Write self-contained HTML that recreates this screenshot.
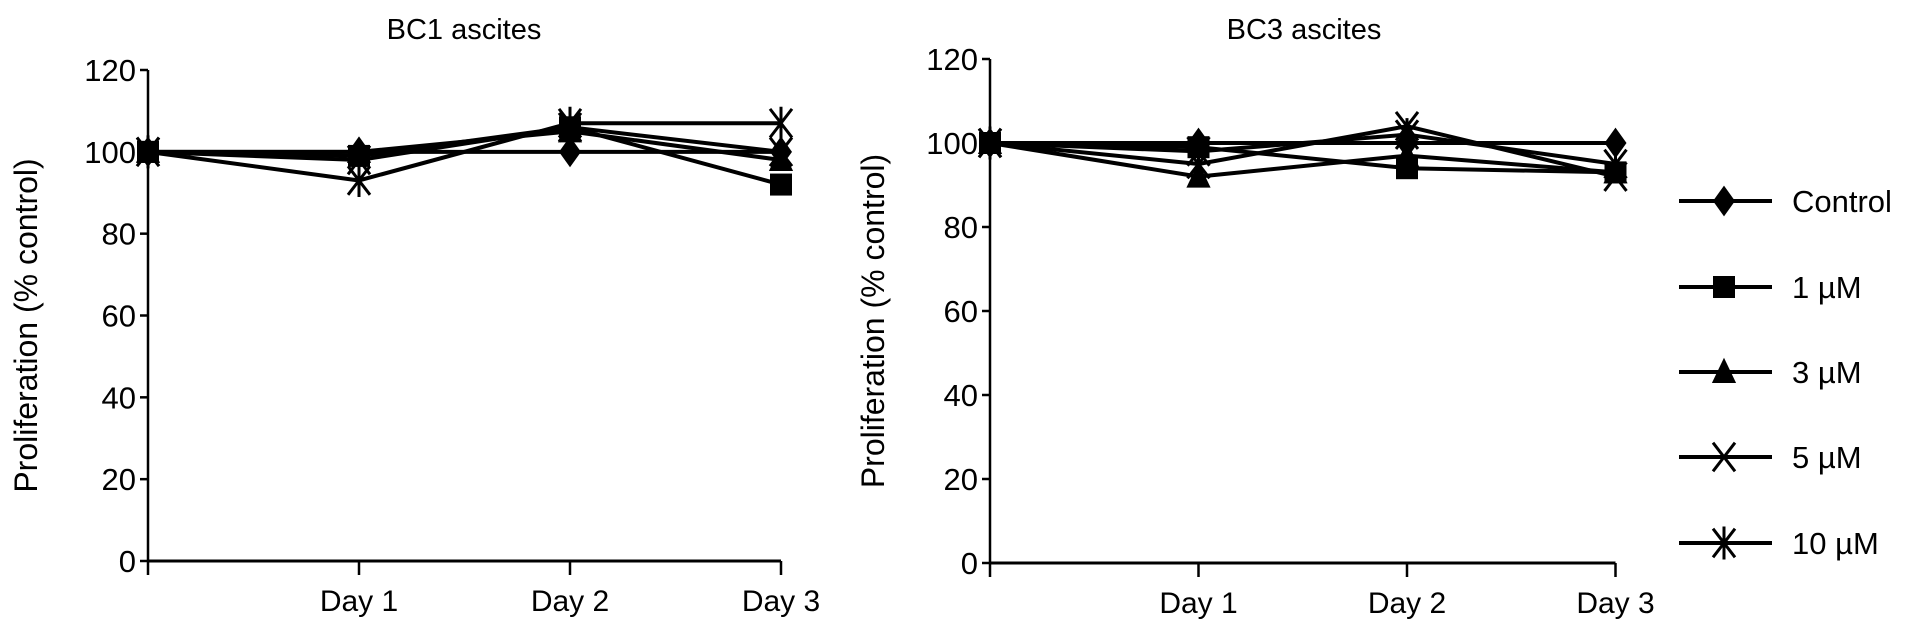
<!DOCTYPE html>
<html><head><meta charset="utf-8"><style>
body{margin:0;background:#fff;}
svg text{font-family:"Liberation Sans",sans-serif;fill:#000;}
</style></head><body>
<svg id="c" width="1913" height="635" viewBox="0 0 1913 635"></svg>
<script>
const days=["","Day 1","Day 2","Day 3"];
const yTicks=[0,20,40,60,80,100,120];
const seriesNames=["Control","1 µM","3 µM","5 µM","10 µM"];
const bc1Control=[100,100,100,100];
const bc1UM1=[100,99,106,92];
const bc1UM3=[100,100,105,98];
const bc1UM5=[100,98,106,100];
const bc1UM10=[100,93,107,107];
const bc3Control=[100,100,100,100];
const bc3UM1=[100,99,94,93];
const bc3UM3=[100,92,97,93];
const bc3UM5=[100,95,104,92];
const bc3UM10=[100,98,102,95];
const markers=["diamond","square","triangle","x","star"];
const NS="http://www.w3.org/2000/svg";
const svg=document.getElementById('c');
function mk(t,a,p){const e=document.createElementNS(NS,t);for(const k in a)e.setAttribute(k,a[k]);(p||svg).appendChild(e);return e;}
function marker(g,type,x,y){
  const s=11;
  if(type==="diamond")return mk('polygon',{points:`${x},${y-s*1.4} ${x+s},${y} ${x},${y+s*1.4} ${x-s},${y}`,fill:'#000'},g);
  if(type==="square")return mk('rect',{x:x-s,y:y-s,width:2*s,height:2*s,fill:'#000'},g);
  if(type==="triangle")return mk('polygon',{points:`${x},${y-s*1.3} ${x+s*1.1},${y+s} ${x-s*1.1},${y+s}`,fill:'#000'},g);
  if(type==="x")return mk('path',{d:`M${x-s},${y-s*1.3}L${x+s},${y+s*1.3}M${x+s},${y-s*1.3}L${x-s},${y+s*1.3}`,stroke:'#000','stroke-width':3},g);
  return mk('path',{d:`M${x-s},${y-s*1.3}L${x+s},${y+s*1.3}M${x+s},${y-s*1.3}L${x-s},${y+s*1.3}M${x},${y-s*1.5}L${x},${y+s*1.5}`,stroke:'#000','stroke-width':3},g);
}
function chart(id,title,x0,xStep,y0,y120,series,titleX,ylabX){
  const g=mk('g',{});
  
  
  const X=i=>x0+i*xStep, Y=v=>y0-(y0-y120)*v/120;
  const t=mk('text',{x:titleX,y:39,'font-size':29,'text-anchor':'middle'},g);t.textContent=title;
  
  mk('line',{x1:x0,y1:Y(120),x2:x0,y2:y0+14,stroke:'#000','stroke-width':2.5},g);
  mk('line',{x1:x0,y1:y0,x2:X(3),y2:y0,stroke:'#000','stroke-width':3},g);
  yTicks.forEach(v=>{mk('line',{x1:x0-8,y1:Y(v),x2:x0,y2:Y(v),stroke:'#000','stroke-width':2.5},g);
    const l=mk('text',{x:x0-12,y:Y(v)+11,'font-size':31,'text-anchor':'end'},g);l.textContent=v;
    });
  days.forEach((d,i)=>{if(i>0){mk('line',{x1:X(i),y1:y0,x2:X(i),y2:y0+14,stroke:'#000','stroke-width':2.5},g);
    const l=mk('text',{x:X(i),y:y0+50,'font-size':30,'text-anchor':'middle'},g);l.textContent=d;
    }});
  const yl=mk('text',{x:0,y:0,'font-size':32,'text-anchor':'middle',transform:`translate(${ylabX},${(y0+Y(120))/2+10}) rotate(-90)`},g);
  yl.textContent="Proliferation (% control)";
  
  series.forEach((vals,si)=>{
    const p=mk('polyline',{points:vals.map((v,i)=>X(i)+','+Y(v)).join(' '),fill:'none',stroke:'#000','stroke-width':4,'stroke-linejoin':'round'},g);
    
    vals.forEach((v,i)=>{const m=marker(g,markers[si],X(i),Y(v));
      });
  });
}
chart('bc1-chart','BC1 ascites',148,211,561,70,[bc1Control,bc1UM1,bc1UM3,bc1UM5,bc1UM10],464,37);
chart('bc3-chart','BC3 ascites',990,208.5,563,59,[bc3Control,bc3UM1,bc3UM3,bc3UM5,bc3UM10],1304,884);
const legY=[201,287,372,457,543];
seriesNames.forEach((n,i)=>{
  const g=mk('g',{});
  
  
  mk('line',{x1:1679,y1:legY[i],x2:1772,y2:legY[i],stroke:'#000','stroke-width':4},g);
  marker(g,markers[i],1724,legY[i]);
  const t=mk('text',{x:1792,y:legY[i]+11,'font-size':31},g);t.textContent=n;
});
</script>
</body></html>
